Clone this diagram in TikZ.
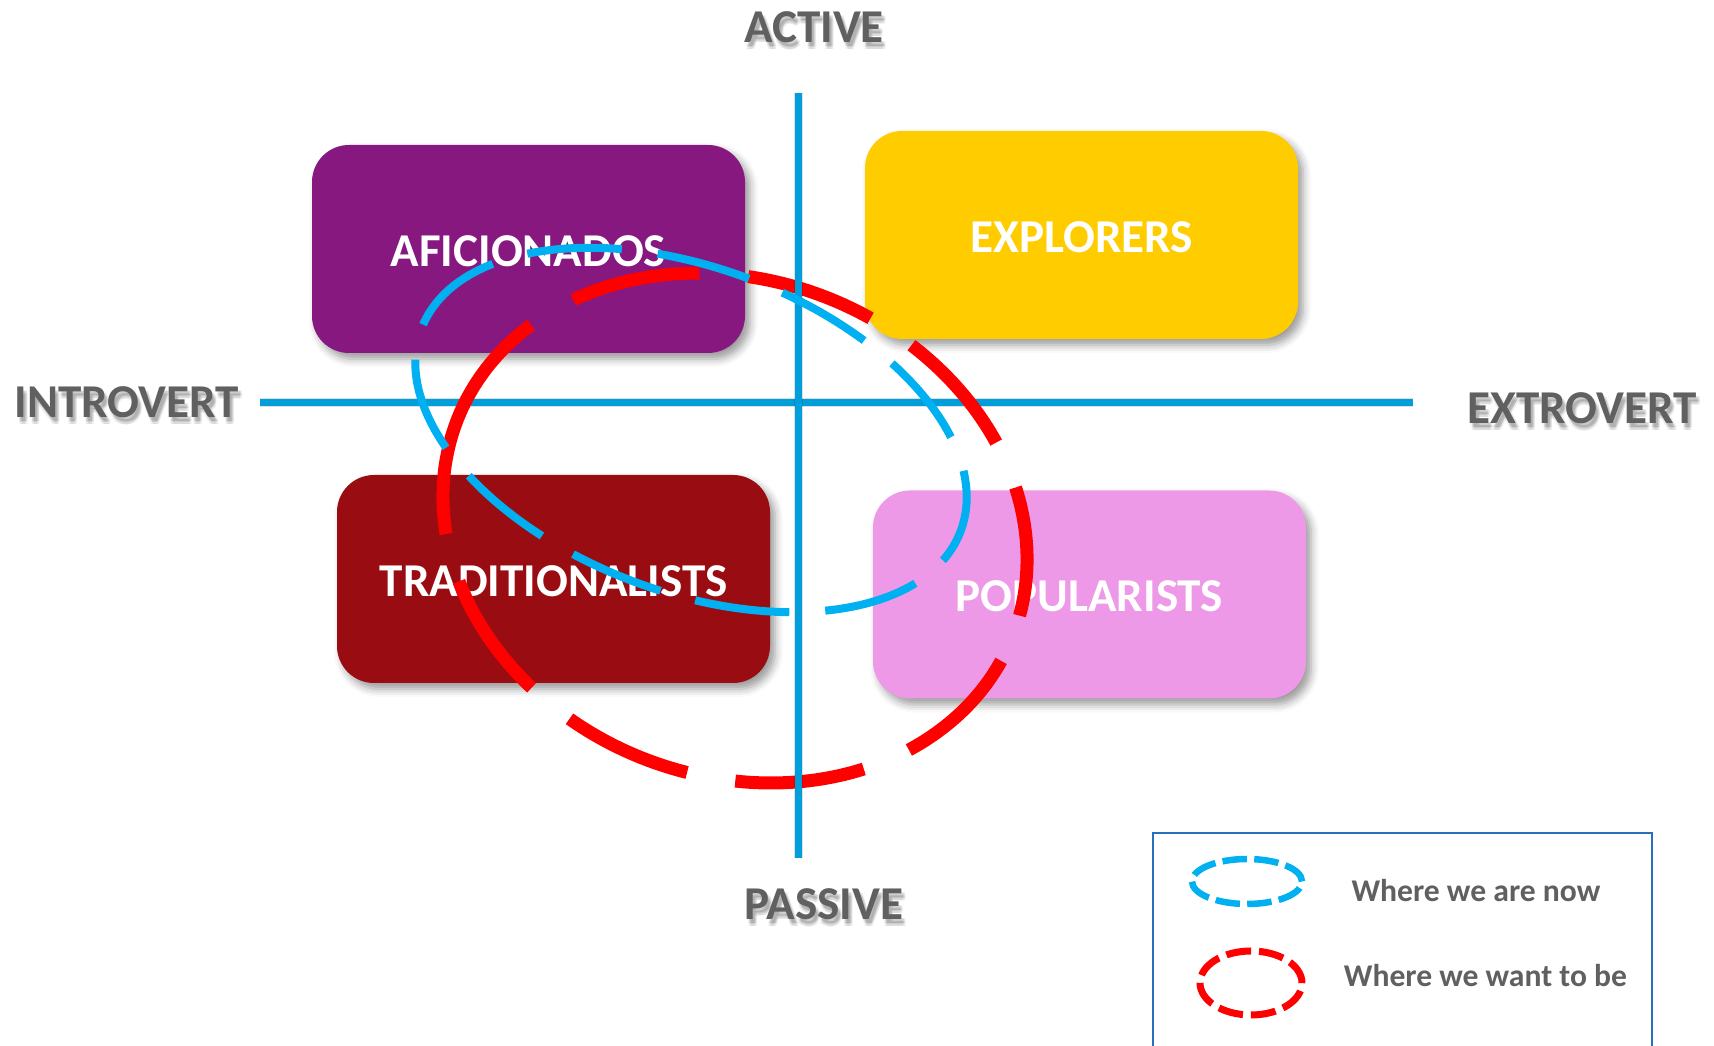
\documentclass[tikz,border=0pt]{standalone}
\usepackage{fontspec}
\setmainfont{Carlito}
\definecolor{AficPurple}{RGB}{134,24,128}
\definecolor{ExplYellow}{RGB}{255,204,0}
\definecolor{TradRed}{RGB}{153,13,18}
\definecolor{PopuPink}{RGB}{238,153,232}
\definecolor{AxisBlue}{RGB}{0,158,218}
\definecolor{NowBlue}{RGB}{0,176,240}
\definecolor{WantRed}{RGB}{255,0,0}
\definecolor{LabelGray}{RGB}{96,96,96}
\definecolor{FrameBlue}{RGB}{40,112,188}
\usetikzlibrary{shadows.blur}

% axis label with a soft grey drop shadow behind it
\newcommand{\softlabel}[3]{%
  \foreach \sx/\sy in {0.02/-0.04,0.04/-0.04,0.02/-0.07,0.04/-0.07,0.03/-0.055}
    \node[axlabel,text=black,text opacity=0.07,xshift=\sx cm,yshift=\sy cm] at (#2) {#3};
  \node[axlabel] (#1) at (#2) {#3};}

\begin{document}
\begin{tikzpicture}[
        seg/.style={rectangle,rounded corners=0.37cm,minimum width=4.33cm,minimum height=2.08cm,
                    font=\fontsize{13.4}{16}\selectfont\bfseries,text=white,text height=0.35cm,
                    blur shadow={shadow xshift=0.05cm,shadow yshift=-0.06cm,shadow blur radius=0.08cm,shadow opacity=40}},
        axlabel/.style={font=\fontsize{13.4}{16}\selectfont\bfseries,text=LabelGray,inner sep=0pt},
        axisline/.style={AxisBlue,line width=0.07cm},
        axisshade/.style={black,opacity=0.12,line width=0.09cm},
        nowring/.style={NowBlue,line width=0.08cm,dash pattern=on 0.95cm off 0.36cm,dash phase=0.34cm},
        wantring/.style={WantRed,line width=0.13cm,
                    dash pattern=on 2.38cm off 0.49cm on 1.3cm off 0.49cm on 1.3cm off 0.49cm
                                 on 1.3cm off 0.49cm on 1.3cm off 0.49cm on 1.3cm off 0.49cm
                                 on 1.3cm off 0.49cm on 1.3cm off 0.49cm on 1.3cm off 0.49cm},
        legtext/.style={font=\fontsize{9}{11}\selectfont\bfseries,text=LabelGray,inner sep=0pt}]
  \useasboundingbox (0,0) rectangle (17.14,-10.46);

  % the four segments
  \node[seg,fill=AficPurple] (afic) at (5.285,-2.49)  {AFICIONADOS};
  \node[seg,fill=ExplYellow] (expl) at (10.815,-2.35) {EXPLORERS};
  \node[seg,fill=TradRed]    (trad) at (5.535,-5.79)  {TRADITIONALISTS};
  \node[seg,fill=PopuPink]   (popu) at (10.895,-5.945) {POPULARISTS};

  % axes
  \coordinate (ytop) at (7.98,-0.93);
  \coordinate (ybot) at (7.98,-8.58);
  \coordinate (xlft) at (2.60,-4.03);
  \coordinate (xrgt) at (14.13,-4.03);
  \draw[axisshade,yshift=-0.04cm] (xlft) -- (xrgt);
  \draw[axisline] (xlft) -- (xrgt);

  % axis labels
  \softlabel{active}{8.14,-0.27}{ACTIVE}
  \softlabel{passive}{8.24,-9.04}{PASSIVE}
  \softlabel{introvert}{1.27,-4.02}{INTROVERT}
  \softlabel{extrovert}{15.82,-4.08}{EXTROVERT}

  % where we want to be
  \begin{scope}[shift={(7.35,-5.28)},rotate=-21]
    \draw[wantring] (152:2.98 and 2.48) arc[start angle=152,end angle=512,x radius=2.98,y radius=2.48];
  \end{scope}

  \draw[axisshade,xshift=0.03cm,yshift=-0.03cm] (ytop) -- (ybot);
  \draw[axisline] (ytop) -- (ybot);

  % where we are now
  \draw[nowring,rotate around={-20.5:(6.91,-4.30)}] (6.91,-4.30) ellipse (2.88 and 1.62);

  % legend
  \coordinate (legBL) at (11.53,-10.60);
  \coordinate (legTR) at (16.52,-8.33);
  \draw[FrameBlue,line width=0.02cm] (legBL) |- (legTR) -- (legTR |- legBL);
  \draw[NowBlue,line width=0.065cm,dash pattern=on 0.245cm off 0.073cm] (12.47,-8.815) ellipse (0.55 and 0.225);
  \draw[WantRed,line width=0.07cm,dash pattern=on 0.25cm off 0.08cm] (12.51,-9.83) ellipse (0.51 and 0.32);
  \node[legtext] (nowtxt)  at (14.76,-8.91) {Where we are now};
  \node[legtext] (wanttxt) at (14.855,-9.76) {Where we want to be};
\end{tikzpicture}
\end{document}
